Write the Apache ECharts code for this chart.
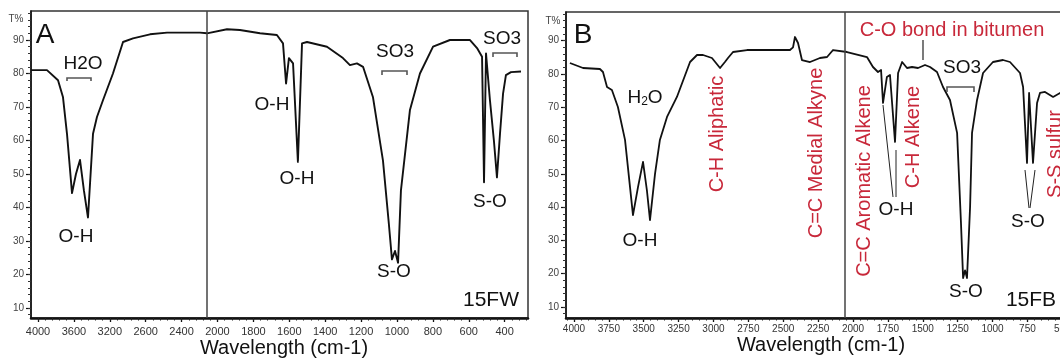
<!DOCTYPE html>
<html><head><meta charset="utf-8">
<script src="https://cdn.jsdelivr.net/npm/echarts@6/dist/echarts.min.js"></script>
<style>html,body{margin:0;padding:0;background:#fff}#c{width:1060px;height:358px}</style>
</head><body><div id="c"></div>
<script>
// ---- tick labels ----
const ticksA = [4000,3600,3200,2600,2400,2000,1800,1600,1400,1200,1000,800,600,400];
const ticksB = [4000,3750,3500,3250,3000,2750,2500,2250,2000,1750,1500,1250,1000,750,500];
const yTicks = [10,20,30,40,50,60,70,80,90];

// ---- spectrum A (15FW): wavenumber (cm-1) and transmittance (%) ----
const wnA = [4078,3900,3777,3722,3677,3621,3577,3532,3488,3443,3387,3343,3276,3147,2979,2812,2576,2481,2195,2117,1947,1875,1763,1669,1635,1618,1602,1579,1552,1529,1501,1390,1301,1262,1223,1189,1134,1078,1045,1028,1011,994,978,928,872,799,705,593,554,526,515,504,482,460,443,426,409,393,365,309];
const tA  = [81.0,81,78,73,62,44.3,50,54.2,45,37,62,67,72,80,89.4,90.5,91.7,92.2,92.2,92,93.2,93,92,91.5,89,77,84.6,83,53.6,89,89.4,88,84.6,82.5,83,82,73,54,35,24.5,27,23.5,45,69,80,88,90,90,87.6,85,47.5,86,72,60,49,62,74,79.5,80.4,80.6];

// ---- spectrum B (15FB) ----
const wnB = [4029,3935,3814,3792,3763,3728,3685,3634,3577,3541,3505,3477,3455,3419,3384,3333,3262,3168,3118,3075,3011,2953,2918,2896,2882,2860,2760,2452,2430,2416,2394,2366,2308,2237,2186,2143,2043,1900,1857,1821,1799,1785,1757,1735,1699,1677,1648,1613,1577,1534,1484,1448,1398,1355,1305,1254,1226,1211,1197,1183,1161,1147,1111,1068,997,925,875,803,781,753,738,724,710,681,660,624,566,516,444];
const tB  = [83.3,81.8,81.5,80.6,76.1,75.2,70.1,60.2,37.6,46,53.6,45,36.1,50,60.2,67.1,73.1,83.6,85.7,85.7,84.8,81.8,83.6,84.8,84.2,86.6,87.2,87.2,88,91.1,89.3,84.2,83.6,84.8,85.1,87.2,86.6,85.1,82.1,80.6,81.2,71.3,79.1,79.7,59.6,80.3,83.6,81.8,82.1,81.8,82.7,82.1,80.6,76.1,72.2,62.3,35,18.7,21,18.7,40,62.3,72.2,80.3,83.6,84.2,83.6,80.3,76.1,53.3,74.3,74,53.3,71.3,74.3,74.6,73.1,74.3,74];

const dividerA = 2117, dividerB = 2057;

// panel A axis is non-uniform: position follows the tick-label sequence
function idxA(wn){
  const L = ticksA, n = L.length;
  if (wn >= L[0]) return -(wn - L[0]) / (L[0] - L[1]);
  for (let i = 0; i < n - 1; i++) {
    if (wn <= L[i] && wn >= L[i+1]) return i + (L[i] - wn) / (L[i] - L[i+1]);
  }
  return (n - 1) + (L[n-1] - wn) / (L[n-2] - L[n-1]);
}
function range(a,b,s){const r=[];for(let v=a;v<=b+1e-9;v+=s)r.push(+v.toFixed(4));return r;}

const FONT = '"Liberation Sans", Arial, sans-serif';
const RED = '#c8283a';
const A_MIN = -0.195, A_MAX = 13.65;
const B_MIN = 409, B_MAX = 4057;
const YA = [7.0, 98.66], YB = [6.7, 98.62];

function xMain(grid, min, max, vals, fmt, size, margin, inverse){
  return {gridIndex:grid, type:'value', min, max, inverse:!!inverse, position:'bottom',
    axisLine:{show:true, onZero:false, lineStyle:{color:'#111', width:2.5}},
    axisTick:{show:true, customValues:vals, length:4, lineStyle:{color:'#111', width:1.3}},
    axisLabel:{show:true, customValues:vals, formatter:fmt, color:'#333', fontSize:size, margin, fontFamily:FONT, hideOverlap:false},
    splitLine:{show:false}};
}
function xMinor(grid, min, max, vals, inverse){
  return {gridIndex:grid, type:'value', min, max, inverse:!!inverse, position:'bottom',
    axisLine:{show:false, onZero:false}, axisTick:{show:true, customValues:vals, length:2.5, lineStyle:{color:'#222', width:1}},
    axisLabel:{show:false}, splitLine:{show:false}};
}
function yMain(grid, mm){
  return {gridIndex:grid, type:'value', min:mm[0], max:mm[1], position:'left',
    axisLine:{show:true, onZero:false, lineStyle:{color:'#111', width:1.5}},
    axisTick:{show:true, customValues:yTicks, length:5, lineStyle:{color:'#111', width:1.2}},
    axisLabel:{show:true, customValues:yTicks, color:'#444', fontSize:10, margin:7, fontFamily:FONT},
    splitLine:{show:false}};
}
function yMinor(grid, mm){
  return {gridIndex:grid, type:'value', min:mm[0], max:mm[1], position:'left',
    axisLine:{show:false, onZero:false}, axisTick:{show:true, customValues:range(8,98,2), length:3, lineStyle:{color:'#333', width:1}},
    axisLabel:{show:false}, splitLine:{show:false}};
}

// ---- annotation helpers (pixel layout) ----
function txt(x,y,text,size,color,rot){
  return {type:'text', x, y, rotation:rot||0, silent:true, z:10,
    style:{text, font: size+'px '+FONT, fill:color||'#111', align:'center', verticalAlign:'middle'}};
}
function seg(x1,y1,x2,y2,w){
  return {type:'line', silent:true, z:10, shape:{x1,y1,x2,y2}, style:{stroke:'#222', lineWidth:w||1}};
}
function bracket(x1,x2,y,h){
  return {type:'polyline', silent:true, z:10, shape:{points:[[x1,y+h],[x1,y],[x2,y],[x2,y+h]]}, style:{stroke:'#555', lineWidth:1.6, fill:null}};
}
const V = Math.PI/2; // text reads bottom-to-top

const graphics = [
  // panel A
  txt(16,19,'T%',10,'#444'),
  txt(45,35,'A',28),
  txt(83,64,'H2O',19),
  bracket(67,91,78,3),
  txt(76,237,'O-H',19),
  txt(272,105,'O-H',19),
  txt(297,179,'O-H',19),
  txt(395,52,'SO3',19),
  bracket(382,407,71,4),
  txt(502,39,'SO3',19),
  bracket(493,517,53,4),
  txt(394,272,'S-O',19),
  txt(490,202,'S-O',19),
  txt(491,300,'15FW',21),
  txt(284,348,'Wavelength (cm-1)',20),
  // panel B
  txt(553,21,'T%',10,'#444'),
  txt(583,35,'B',28),
  {type:'text', x:645, y:98, silent:true, z:10,
    style:{text:'{a|H}{s|2}{a|O}', align:'center', verticalAlign:'middle',
      rich:{a:{font:'19px '+FONT, fill:'#111'}, s:{font:'12px '+FONT, fill:'#111', verticalAlign:'bottom', padding:[6,0,0,0]}}}},
  txt(640,241,'O-H',19),
  txt(717,134,'C-H Aliphatic',20,RED,V),
  txt(816,153,'C=C Medial Alkyne',20,RED,V),
  txt(864,181,'C=C Aromatic Alkene',20,RED,V),
  txt(913,137,'C-H Alkene',20,RED,V),
  txt(1055,154,'S-S sulfur',20,RED,V),
  txt(952,30,'C-O bond in bitumen',20,RED),
  seg(923,40,923,60,1.2),
  txt(962,68,'SO3',19),
  bracket(947,974,87,5),
  txt(896,210,'O-H',19),
  seg(883,105,893,197),
  seg(896,150,896,197),
  txt(1028,222,'S-O',19),
  seg(1025,170,1029,208),
  seg(1035,170,1030,208),
  txt(966,292,'S-O',19),
  txt(1031,300,'15FB',21),
  txt(821,345,'Wavelength (cm-1)',20)
];

const chart = echarts.init(document.getElementById('c'), null, {renderer:'canvas'});
chart.setOption({
  animation:false,
  backgroundColor:'#fff',
  grid:[
    {left:31, top:11, width:497, height:307, show:true, borderColor:'#333', borderWidth:1.5, backgroundColor:'transparent', containLabel:false, outerBoundsMode:'none'},
    {left:566, top:12, width:509, height:306, show:true, borderColor:'#333', borderWidth:1.5, backgroundColor:'transparent', containLabel:false, outerBoundsMode:'none'}
  ],
  xAxis:[
    xMain(0, A_MIN, A_MAX, range(0,13,1), v => String(ticksA[Math.round(v)]), 11, 8, false),
    xMinor(0, A_MIN, A_MAX, range(-0.2,13.6,0.2).filter(v=>v>=A_MIN && v<=A_MAX), false),
    xMain(1, B_MIN, B_MAX, ticksB, v => String(v), 10, 6, true),
    xMinor(1, B_MIN, B_MAX, range(450,4050,50), true)
  ],
  yAxis:[ yMain(0, YA), yMinor(0, YA), yMain(1, YB), yMinor(1, YB) ],
  series:[
    {type:'line', xAxisIndex:0, yAxisIndex:0, symbol:'none', silent:true,
      data: wnA.map((w,i)=>[idxA(w), tA[i]]),
      lineStyle:{color:'#111', width:1.9, join:'round'},
      markLine:{silent:true, symbol:'none', label:{show:false}, lineStyle:{color:'#444', width:1.5, type:'solid'},
        data:[{xAxis: idxA(dividerA)}]}},
    {type:'line', xAxisIndex:2, yAxisIndex:2, symbol:'none', silent:true,
      data: wnB.map((w,i)=>[w, tB[i]]),
      lineStyle:{color:'#111', width:1.8, join:'round'},
      markLine:{silent:true, symbol:'none', label:{show:false}, lineStyle:{color:'#444', width:1.5, type:'solid'},
        data:[{xAxis: dividerB}]}}
  ],
  graphic: graphics
});
</script></body></html>
